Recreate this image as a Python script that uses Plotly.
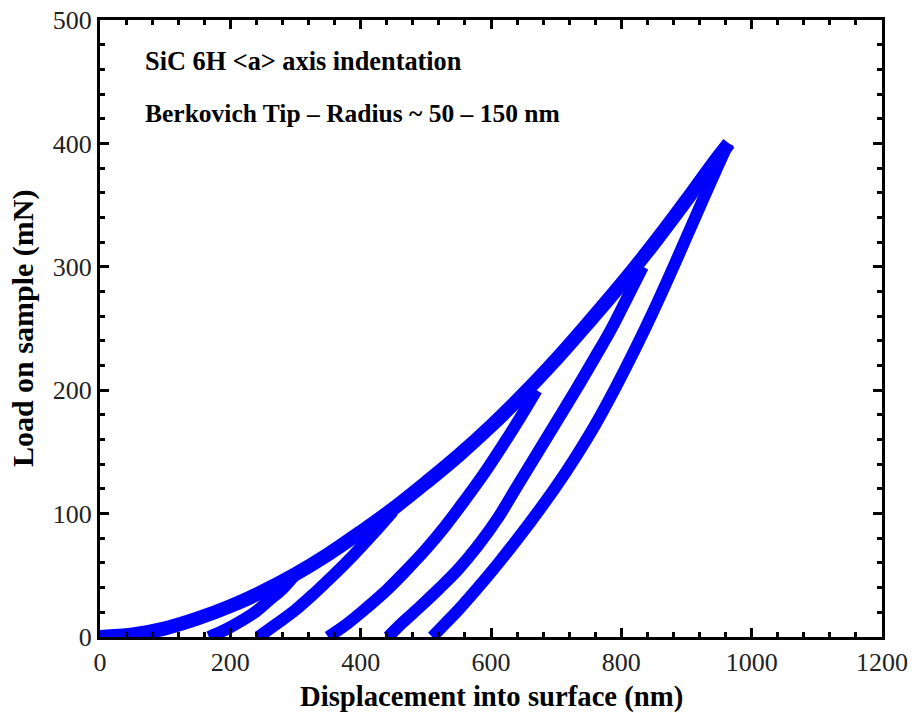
import plotly.graph_objects as go

# Loading curve (shared by all indents), displacement nm / load mN
load_h = [0, 50, 100, 150, 200, 250, 300, 350, 400, 450, 500, 550, 600, 650, 700, 750, 800, 850, 900, 940, 965]
load_p = [0, 2, 7, 15, 25, 37, 51, 67, 85, 104, 125, 147, 171, 197, 225, 255, 286, 319, 354, 383, 400]

# Unloading curves for max loads 50, 100, 200, 300, 400 mN
unl1_h = [300, 280, 260, 240, 220, 200, 185, 167]
unl1_p = [51, 39, 30, 21, 14, 8, 4, 0]
unl2_h = [450, 420, 390, 360, 330, 300, 272, 243]
unl2_p = [102, 84, 67, 51, 36, 22, 11, 0]
unl3_h = [670, 645, 620, 590, 560, 530, 500, 470, 440, 410, 380, 350]
unl3_p = [200, 178, 157, 133, 111, 90, 71, 54, 38, 24, 11, 0]
unl4_h = [833, 810, 785, 760, 730, 700, 670, 640, 610, 580, 550, 520, 490, 465, 442]
unl4_p = [300, 276, 250, 227, 200, 174, 148, 122, 96, 74, 55, 39, 24, 12, 0]
unl5_h = [964, 940, 910, 880, 850, 820, 790, 760, 730, 700, 670, 640, 610, 580, 550, 530, 510]
unl5_p = [400, 372, 336, 300, 265, 232, 201, 172, 146, 122, 100, 79, 59, 40, 22, 11, 0]

x_ticks = [0, 200, 400, 600, 800, 1000, 1200]
y_ticks = [0, 100, 200, 300, 400, 500]

BLUE = "#0000FF"
SERIF = "Liberation Serif, Times New Roman, serif"

fig = go.Figure()
fig.add_trace(go.Scatter(x=load_h, y=load_p, mode="lines", line=dict(color=BLUE, width=14, shape="spline"), showlegend=False))
for hh, pp in [(unl1_h, unl1_p), (unl2_h, unl2_p), (unl3_h, unl3_p), (unl4_h, unl4_p), (unl5_h, unl5_p)]:
    fig.add_trace(go.Scatter(x=hh, y=pp, mode="lines", line=dict(color=BLUE, width=12, shape="spline"), showlegend=False))

axis_common = dict(
    showline=True, linecolor="black", linewidth=3, mirror="ticks",
    ticks="inside", ticklen=9, tickwidth=3, tickcolor="black",
    showgrid=False, zeroline=False, automargin=False,
    tickfont=dict(family=SERIF, size=26, color="#222"),
)
fig.update_xaxes(
    range=[0, 1200], tickvals=x_ticks, ticktext=[str(v) for v in x_ticks],
    minor=dict(ticks="inside", ticklen=5, tickwidth=2.5, tickcolor="black", dtick=40, showgrid=False),
    **axis_common,
)
fig.update_yaxes(
    range=[0, 500], tickvals=y_ticks, ticktext=[str(v) for v in y_ticks],
    minor=dict(ticks="inside", ticklen=5, tickwidth=2.5, tickcolor="black", dtick=20, showgrid=False),
    **axis_common,
)

# axis titles placed as text in paper coordinates
fig.add_annotation(x=0.5, y=-0.097, xref="paper", yref="paper", xanchor="center", yanchor="middle",
                   text="<b>Displacement into surface (nm)</b>", showarrow=False,
                   font=dict(family=SERIF, size=28.7, color="black"))
fig.add_annotation(x=-0.099, y=0.5, xref="paper", yref="paper", xanchor="center", yanchor="middle",
                   text="<b>Load on sample (mN)</b>", textangle=-90, showarrow=False,
                   font=dict(family=SERIF, size=30, color="black"))

fig.add_annotation(x=0.055, y=0.932, xref="paper", yref="paper", xanchor="left", yanchor="middle",
                   text="<b>SiC 6H &lt;a&gt; axis indentation</b>", showarrow=False,
                   font=dict(family=SERIF, size=26.3, color="black"))
fig.add_annotation(x=0.055, y=0.849, xref="paper", yref="paper", xanchor="left", yanchor="middle",
                   text="<b>Berkovich Tip – Radius ~ 50 – 150 nm</b>", showarrow=False,
                   font=dict(family=SERIF, size=25.5, color="black"))

fig.update_layout(
    width=915, height=713,
    margin=dict(l=100, r=33, t=20, b=76),
    plot_bgcolor="white", paper_bgcolor="white",
)
fig.write_html("out.html")
